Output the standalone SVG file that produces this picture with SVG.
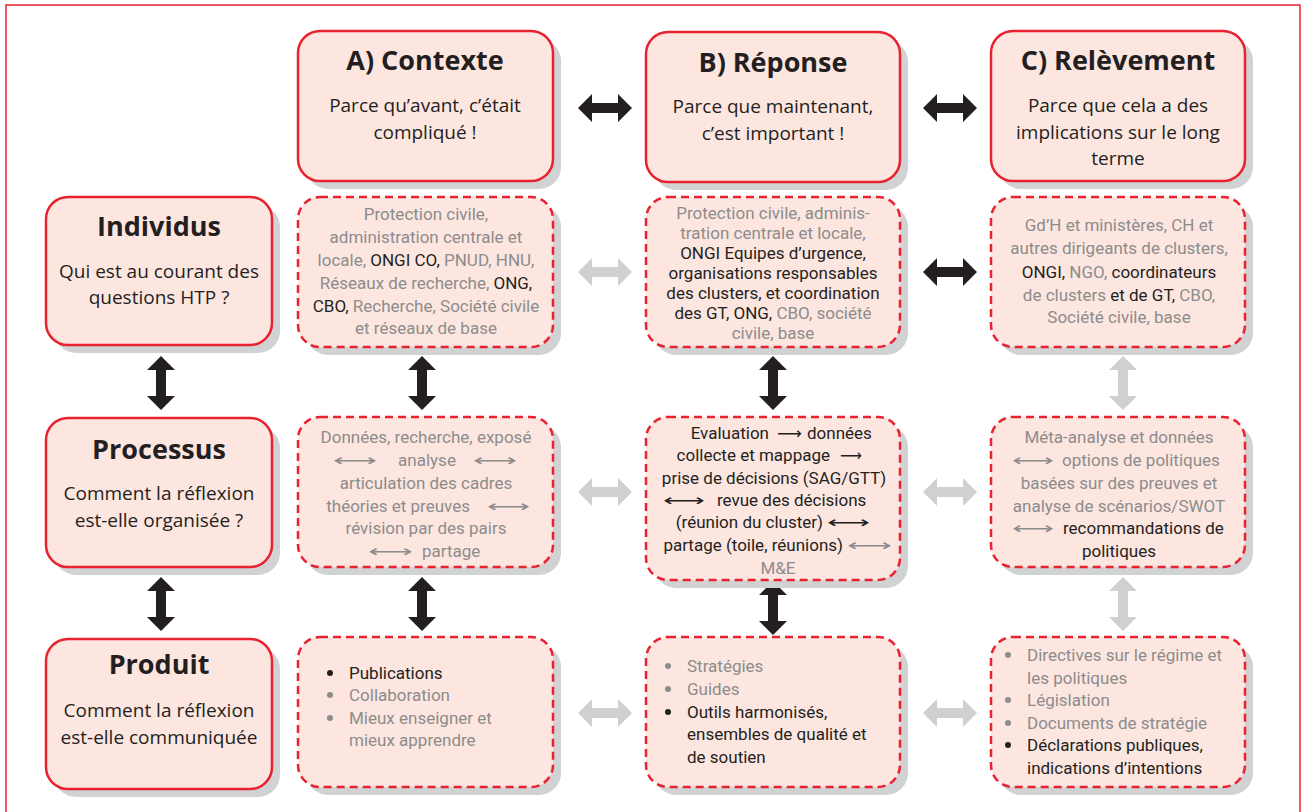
<svg xmlns="http://www.w3.org/2000/svg" xmlns:xlink="http://www.w3.org/1999/xlink" width="1306" height="812" viewBox="0 0 1306 812">
<style>
text{font-family:"Open Sans","Noto Sans","DejaVu Sans",sans-serif;fill:#231f20}
.t{font-size:27px;font-weight:bold;text-anchor:middle}
.s{font-size:19px;text-anchor:middle}
.b{font-family:Roboto,"Noto Sans",sans-serif;font-size:17px;text-anchor:middle}
.l{font-family:Roboto,"Noto Sans",sans-serif;font-size:17px}
.st{text-anchor:start}
.en{text-anchor:end}
.ar{font-family:"DejaVu Sans",sans-serif;font-size:16px}
.g{fill:#8c8c8c}
.k{fill:#231f20}
.solid{fill:#fde6e0;stroke:#e8222e;stroke-width:2.5}
.dash{fill:#fde6e0;stroke:#e8222e;stroke-width:2.5;stroke-dasharray:8 5}
.sh{fill:#d1d2d4}
.ab{fill:#231f20}
.ag{fill:#d0d0d0}
</style>
<defs>
<path id="ah" d="M-27,0 L-13,-14 L-13,-5 L13,-5 L13,-14 L27,0 L13,14 L13,5 L-13,5 L-13,14 Z"/>
<path id="av" d="M0,-27 L14,-13 L5,-13 L5,13 L14,13 L0,27 L-14,13 L-5,13 L-5,-13 L-14,-13 Z"/>
</defs>
<rect x="6" y="5" width="1294" height="830" fill="#fff" stroke="#e8222e" stroke-width="1.5"/>

<g id="connectors">
<use xlink:href="#ah" x="605" y="108" class="ab"/>
<use xlink:href="#ah" x="950" y="108" class="ab"/>
<use xlink:href="#ah" x="605" y="272" class="ag"/>
<use xlink:href="#ah" x="950" y="272" class="ab"/>
<use xlink:href="#ah" x="605" y="492" class="ag"/>
<use xlink:href="#ah" x="950" y="492" class="ag"/>
<use xlink:href="#ah" x="605" y="713" class="ag"/>
<use xlink:href="#ah" x="950" y="713" class="ag"/>
<use xlink:href="#av" x="161" y="383" class="ab"/>
<use xlink:href="#av" x="161" y="604" class="ab"/>
<use xlink:href="#av" x="422" y="383" class="ab"/>
<use xlink:href="#av" x="422" y="604" class="ab"/>
<use xlink:href="#av" x="773" y="383" class="ab"/>
<use xlink:href="#av" x="773" y="608" class="ab"/>
<use xlink:href="#av" x="1123" y="383" class="ag"/>
<use xlink:href="#av" x="1123" y="604" class="ag"/>
</g>

<g id="hA">
<rect x="306" y="39" width="255" height="150" rx="22" class="sh"/>
<rect x="298" y="31" width="255" height="150" rx="22" class="solid"/>
<text x="425" y="70" class="t">A) Contexte</text>
<text x="425" y="112" class="s">Parce qu’avant, c’était</text>
<text x="425" y="139" class="s">compliqué !</text>
</g>
<g id="hB">
<rect x="654" y="40" width="254" height="150" rx="22" class="sh"/>
<rect x="646" y="32" width="254" height="150" rx="22" class="solid"/>
<text x="773" y="72" class="t">B) Réponse</text>
<text x="773" y="113" class="s">Parce que maintenant,</text>
<text x="773" y="140" class="s">c’est important !</text>
</g>
<g id="hC">
<rect x="999" y="39" width="254" height="150" rx="22" class="sh"/>
<rect x="991" y="31" width="254" height="150" rx="22" class="solid"/>
<text x="1118" y="70" class="t">C) Relèvement</text>
<text x="1118" y="112" class="s">Parce que cela a des</text>
<text x="1118" y="139" class="s">implications sur le long</text>
<text x="1118" y="165" class="s">terme</text>
</g>

<g id="individus">
<rect x="54" y="205" width="226" height="148" rx="22" class="sh"/>
<rect x="46" y="197" width="226" height="148" rx="22" class="solid"/>
<text x="159" y="236" class="t">Individus</text>
<text x="159" y="278" class="s">Qui est au courant des</text>
<text x="159" y="304" class="s">questions HTP ?</text>
</g>
<g id="processus">
<rect x="54" y="426" width="226" height="149" rx="22" class="sh"/>
<rect x="46" y="418" width="226" height="149" rx="22" class="solid"/>
<text x="159" y="459" class="t">Processus</text>
<text x="159" y="500" class="s">Comment la réflexion</text>
<text x="159" y="527" class="s">est-elle organisée ?</text>
</g>
<g id="produit">
<rect x="54" y="647" width="226" height="150" rx="22" class="sh"/>
<rect x="46" y="639" width="226" height="150" rx="22" class="solid"/>
<text x="159" y="674" class="t">Produit</text>
<text x="159" y="717" class="s">Comment la réflexion</text>
<text x="159" y="744" class="s">est-elle communiquée</text>
</g>

<g id="a1">
<rect x="306" y="205" width="255" height="150" rx="22" class="sh"/>
<rect x="298" y="197" width="255" height="150" rx="22" class="dash"/>
<text class="b g" x="426" y="220">Protection civile,</text>
<text class="b g" x="426" y="243">administration centrale et</text>
<text class="b g" x="426" y="266">locale, <tspan class="k">ONGI CO,</tspan> PNUD, HNU,</text>
<text class="b g" x="426" y="289">Réseaux de recherche, <tspan class="k">ONG,</tspan></text>
<text class="b g" x="426" y="312"><tspan class="k">CBO,</tspan> Recherche, Société civile</text>
<text class="b g" x="426" y="334">et réseaux de base</text>
</g>
<g id="b1">
<rect x="654" y="205" width="254" height="150" rx="22" class="sh"/>
<rect x="646" y="197" width="254" height="150" rx="22" class="dash"/>
<text class="b g" x="773" y="219">Protection civile, adminis-</text>
<text class="b g" x="773" y="239">tration centrale et locale,</text>
<text class="b" x="773" y="259">ONGI Equipes d’urgence,</text>
<text class="b" x="773" y="279">organisations responsables</text>
<text class="b" x="773" y="299">des clusters, et coordination</text>
<text class="b" x="773" y="319">des GT, ONG, <tspan class="g"> CBO, société</tspan></text>
<text class="b g" x="773" y="339">civile, base</text>
</g>
<g id="c1">
<rect x="999" y="205" width="254" height="150" rx="22" class="sh"/>
<rect x="991" y="197" width="254" height="150" rx="22" class="dash"/>
<text class="b g" x="1119" y="231">Gd’H et ministères, CH et</text>
<text class="b g" x="1119" y="254">autres dirigeants de clusters,</text>
<text class="b g" x="1119" y="278"><tspan class="k">ONGI,</tspan> NGO, <tspan class="k">coordinateurs</tspan></text>
<text class="b g" x="1119" y="301">de clusters <tspan class="k">et de GT,</tspan> CBO,</text>
<text class="b g" x="1119" y="323">Société civile, base</text>
</g>

<g id="a2">
<rect x="306" y="425" width="255" height="150" rx="22" class="sh"/>
<rect x="298" y="417" width="255" height="150" rx="22" class="dash"/>
<text class="b g" x="426" y="443">Données, recherche, exposé</text>
<text class="ar g" x="333" y="466" textLength="44" lengthAdjust="spacingAndGlyphs">⟷</text>
<text class="b g" x="427" y="466">analyse</text>
<text class="ar g" x="473" y="466" textLength="44" lengthAdjust="spacingAndGlyphs">⟷</text>
<text class="b g" x="426" y="489">articulation des cadres</text>
<text class="b g en" x="470" y="512">théories et preuves</text>
<text class="ar g" x="487" y="512" textLength="43" lengthAdjust="spacingAndGlyphs">⟷</text>
<text class="b g" x="426" y="534">révision par des pairs</text>
<text class="ar g" x="368" y="557" textLength="45" lengthAdjust="spacingAndGlyphs">⟷</text>
<text class="b g st" x="422" y="557">partage</text>
</g>
<g id="b2">
<rect x="654" y="425" width="254" height="163" rx="22" class="sh"/>
<rect x="646" y="417" width="254" height="163" rx="22" class="dash"/>
<text class="b en" x="769" y="439">Evaluation</text>
<text class="ar" x="777" y="439" textLength="25" lengthAdjust="spacingAndGlyphs">⟶</text>
<text class="b st" x="807" y="439">données</text>
<text class="b en" x="830" y="461">collecte et mappage</text>
<text class="ar" x="840" y="461" textLength="22" lengthAdjust="spacingAndGlyphs">⟶</text>
<text class="b" x="774" y="484">prise de décisions (SAG/GTT)</text>
<text class="ar" x="663" y="506" textLength="42" lengthAdjust="spacingAndGlyphs">⟷</text>
<text class="b st" x="717" y="506">revue des décisions</text>
<text class="b en" x="823" y="528">(réunion du cluster)</text>
<text class="ar" x="827" y="528" textLength="43" lengthAdjust="spacingAndGlyphs">⟷</text>
<text class="b en" x="843" y="551">partage (toile, réunions)</text>
<text class="ar g" x="847" y="551" textLength="45" lengthAdjust="spacingAndGlyphs">⟷</text>
<text class="b g" x="778" y="574">M&amp;E</text>
</g>
<g id="c2">
<rect x="999" y="425" width="254" height="150" rx="22" class="sh"/>
<rect x="991" y="417" width="254" height="150" rx="22" class="dash"/>
<text class="b g" x="1119" y="443">Méta-analyse et données</text>
<text class="ar g" x="1012" y="466" textLength="42" lengthAdjust="spacingAndGlyphs">⟷</text>
<text class="b g st" x="1062" y="466">options de politiques</text>
<text class="b g" x="1119" y="489">basées sur des preuves et</text>
<text class="b g" x="1119" y="512">analyse de scénarios/SWOT</text>
<text class="ar g" x="1012" y="534" textLength="42" lengthAdjust="spacingAndGlyphs">⟷</text>
<text class="b st" x="1063" y="534">recommandations de</text>
<text class="b" x="1119" y="557">politiques</text>
</g>

<g id="a3">
<rect x="306" y="645" width="255" height="150" rx="22" class="sh"/>
<rect x="298" y="637" width="255" height="150" rx="22" class="dash"/>
<circle cx="330" cy="673" r="3" fill="#231f20"/>
<circle cx="330" cy="695" r="3" fill="#8c8c8c"/>
<circle cx="330" cy="718" r="3" fill="#8c8c8c"/>
<text class="l" x="349" y="679">Publications</text>
<text class="l g" x="349" y="701">Collaboration</text>
<text class="l g" x="349" y="724">Mieux enseigner et</text>
<text class="l g" x="349" y="746">mieux apprendre</text>
</g>
<g id="b3">
<rect x="654" y="645" width="254" height="150" rx="22" class="sh"/>
<rect x="646" y="637" width="254" height="150" rx="22" class="dash"/>
<circle cx="668" cy="666" r="3" fill="#8c8c8c"/>
<circle cx="668" cy="689" r="3" fill="#8c8c8c"/>
<circle cx="668" cy="712" r="3" fill="#231f20"/>
<text class="l g" x="687" y="672">Stratégies</text>
<text class="l g" x="687" y="695">Guides</text>
<text class="l" x="687" y="718">Outils harmonisés,</text>
<text class="l" x="687" y="740">ensembles de qualité et</text>
<text class="l" x="687" y="763">de soutien</text>
</g>
<g id="c3">
<rect x="999" y="645" width="254" height="150" rx="22" class="sh"/>
<rect x="991" y="637" width="254" height="150" rx="22" class="dash"/>
<circle cx="1008" cy="655" r="3" fill="#8c8c8c"/>
<circle cx="1008" cy="700" r="3" fill="#8c8c8c"/>
<circle cx="1008" cy="723" r="3" fill="#8c8c8c"/>
<circle cx="1008" cy="745" r="3" fill="#231f20"/>
<text class="l g" x="1027" y="661">Directives sur le régime et</text>
<text class="l g" x="1027" y="684">les politiques</text>
<text class="l g" x="1027" y="706">Législation</text>
<text class="l g" x="1027" y="729">Documents de stratégie</text>
<text class="l" x="1027" y="751">Déclarations publiques,</text>
<text class="l" x="1027" y="774">indications d’intentions</text>
</g>
</svg>
